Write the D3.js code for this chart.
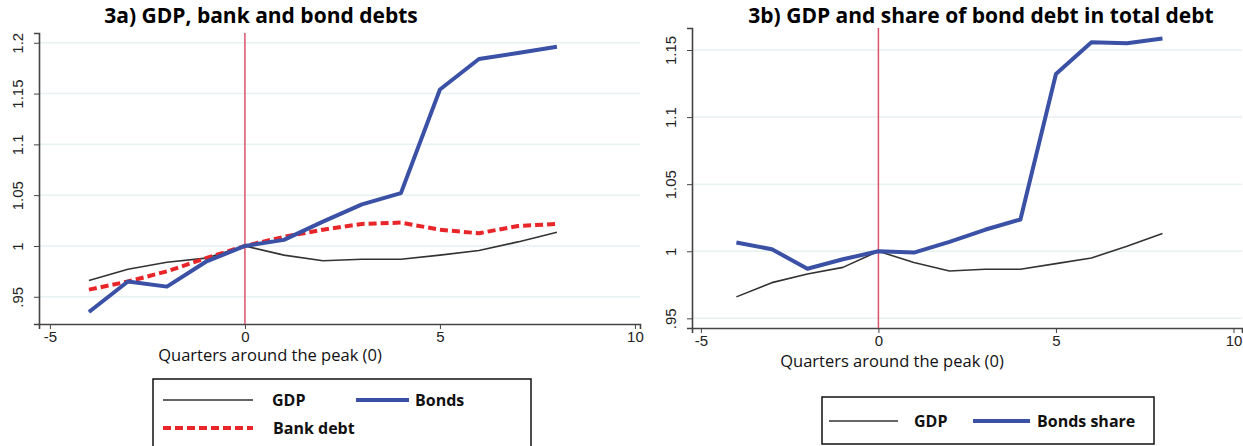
<!DOCTYPE html>
<html>
<head>
<meta charset="utf-8">
<script src="https://cdn.jsdelivr.net/npm/d3@7"></script>
<style>
  body { margin: 0; background: #fff; }
  svg { display: block; }
  .tick text { font-family: "Liberation Sans", Arial, sans-serif; font-size: 15px; fill: #222; }
</style>
</head>
<body>
<script>
// data
const quarters = [-4, -3, -2, -1, 0, 1, 2, 3, 4, 5, 6, 7, 8];
const gdp = [0.966, 0.977, 0.984, 0.988, 1.0, 0.991, 0.9855, 0.987, 0.987, 0.991, 0.9955, 1.004, 1.0135];
const bankDebt = [0.957, 0.965, 0.975, 0.988, 1.0, 1.009, 1.016, 1.0217, 1.023, 1.016, 1.0125, 1.0197, 1.0217];
const bonds = [0.935, 0.965, 0.960, 0.9845, 1.0, 1.006, 1.024, 1.041, 1.052, 1.154, 1.184, 1.19, 1.196];
const gdpB = [0.966, 0.9766, 0.983, 0.988, 1.0, 0.9916, 0.9853, 0.9866, 0.9866, 0.9908, 0.995, 1.0037, 1.0132];
const bondsShare = [1.0065, 1.0015, 0.987, 0.994, 1.0, 0.999, 1.007, 1.016, 1.0237, 1.1321, 1.1557, 1.155, 1.1585];
const xTicks = [-5, 0, 5, 10];
const yTicksA = [0.95, 1, 1.05, 1.1, 1.15, 1.2];
const yTicksB = [0.95, 1, 1.05, 1.1, 1.15];

const W = 1243, H = 446;
const svg = d3.select('body').append('svg').attr('width', W).attr('height', H);

const fmtY = v => v === 1 ? '1' : (v < 1 ? d3.format('.2f')(v).replace(/^0/, '') : String(v));

const styles = {
    gdp: { color: '#333', width: 1.6, dash: null },
    bonds: { color: '#3a51a6', width: 4, dash: null },
    bank: { color: '#e8262a', width: 4, dash: '8,4' }
};

function drawPanel(p) {
    const g = svg.append('g');
    const x = d3.scaleLinear().domain(p.xDomain).range([p.left, p.right]);
    const y = d3.scaleLinear().domain(p.yDomain).range([p.bottom, p.top]);

    // gridlines
    g.selectAll('line.grid').data(p.yTicks).enter().append('line')
        .attr('x1', p.left).attr('x2', p.right)
        .attr('y1', y).attr('y2', y)
        .attr('stroke', '#e8f1f2').attr('stroke-width', 1.5);

    // axes
    const xAxis = g.append('g').attr('transform', `translate(0, ${p.bottom})`)
        .call(d3.axisBottom(x).tickValues(xTicks).tickSize(5).tickPadding(2).tickFormat(d3.format('d')));
    xAxis.select('.domain').attr('stroke', '#444').attr('stroke-width', 1.6);
    xAxis.selectAll('.tick line').attr('stroke', '#444');
    xAxis.selectAll('.tick text').attr('dy', '0.75em').text(d => d < 0 ? '-' + Math.abs(d) : d);

    const yAxis = g.append('g').attr('transform', `translate(${p.left}, 0)`)
        .call(d3.axisLeft(y).tickValues(p.yTicks).tickSize(5).tickFormat(fmtY));
    yAxis.select('.domain').attr('stroke', '#444').attr('stroke-width', 1.6);
    yAxis.selectAll('.tick line').attr('stroke', '#444');
    yAxis.selectAll('.tick text')
        .attr('transform', 'rotate(-90)')
        .attr('x', 0).attr('y', -16)
        .attr('dy', 0)
        .attr('text-anchor', 'middle');

    // reference line at the peak
    g.append('line')
        .attr('x1', x(0)).attr('x2', x(0))
        .attr('y1', p.top).attr('y2', p.bottom)
        .attr('stroke', '#d9536a').attr('stroke-width', 1.5);

    const line = vals => d3.line().x((d, i) => x(quarters[i])).y(d => y(d))(vals);
    p.series.forEach(s => {
        const st = styles[s.style];
        g.append('path').attr('d', line(s.values))
            .attr('fill', 'none').attr('stroke', st.color)
            .attr('stroke-width', st.width)
            .attr('stroke-dasharray', st.dash)
            .attr('stroke-linejoin', 'round');
    });

    // title
    g.append('text').attr('x', p.titleX).attr('y', 23)
        .attr('text-anchor', 'middle')
        .style('font-family', '"Open Sans", sans-serif').style('font-weight', 'bold').style('font-size', '21px')
        .text(p.title);
    // x axis title
    g.append('text').attr('x', p.xTitleX).attr('y', p.xTitleY)
        .attr('text-anchor', 'middle')
        .style('font-family', '"Open Sans", sans-serif').style('font-size', '16.5px').attr('fill', '#111')
        .text('Quarters around the peak (0)');

    // legend
    const lg = g.append('g');
    lg.append('rect').attr('x', p.legend.x).attr('y', p.legend.y)
        .attr('width', p.legend.w).attr('height', p.legend.h)
        .attr('fill', '#fff').attr('stroke', '#111').attr('stroke-width', 1.5);
    p.legend.items.forEach(it => {
        const st = styles[it.style];
        lg.append('line').attr('x1', it.x1).attr('x2', it.x2).attr('y1', it.y).attr('y2', it.y)
            .attr('stroke', st.color).attr('stroke-width', st.width).attr('stroke-dasharray', st.dash);
        lg.append('text').attr('x', it.tx).attr('y', it.y + 6)
            .style('font-family', '"Open Sans", sans-serif').style('font-weight', 'bold').style('font-size', '16px')
            .attr('fill', '#111')
            .text(it.label);
    });
}

drawPanel({
    left: 39, right: 640, top: 33, bottom: 324,
    xDomain: [-5.28, 10.13], yDomain: [0.9232, 1.2096],
    yTicks: yTicksA,
    series: [
        { values: gdp, style: 'gdp' },
        { values: bankDebt, style: 'bank' },
        { values: bonds, style: 'bonds' }
    ],
    title: '3a) GDP, bank and bond debts', titleX: 261, xTitleX: 270, xTitleY: 361,
    legend: {
        x: 153, y: 379, w: 378, h: 80,
        items: [
            { style: 'gdp', label: 'GDP', x1: 163, x2: 253, y: 400, tx: 272 },
            { style: 'bonds', label: 'Bonds', x1: 356, x2: 409, y: 400, tx: 415 },
            { style: 'bank', label: 'Bank debt', x1: 163, x2: 253, y: 428, tx: 273 }
        ]
    }
});

drawPanel({
    left: 692, right: 1242, top: 28, bottom: 328,
    xDomain: [-5.25, 10.24], yDomain: [0.9428, 1.1664],
    yTicks: yTicksB,
    series: [
        { values: gdpB, style: 'gdp' },
        { values: bondsShare, style: 'bonds' }
    ],
    title: '3b) GDP and share of bond debt in total debt', titleX: 981, xTitleX: 892, xTitleY: 367,
    legend: {
        x: 822, y: 397, w: 332, h: 47,
        items: [
            { style: 'gdp', label: 'GDP', x1: 829, x2: 898, y: 421, tx: 914 },
            { style: 'bonds', label: 'Bonds share', x1: 973, x2: 1030, y: 421, tx: 1037 }
        ]
    }
});
</script>
</body>
</html>
